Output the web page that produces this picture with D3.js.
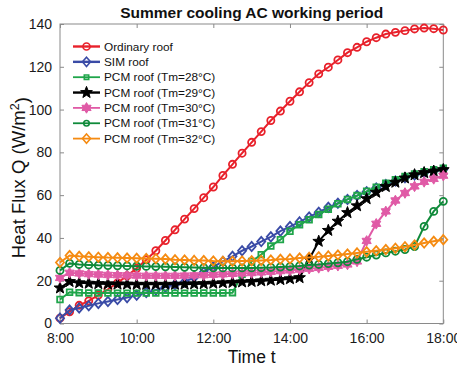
<!DOCTYPE html>
<html>
<head>
<meta charset="utf-8">
<script src="https://cdn.jsdelivr.net/npm/d3@7/dist/d3.min.js"></script>
<style>
  html, body { margin: 0; padding: 0; background: #fff; }
  svg { display: block; font-family: "Liberation Sans", Arial, Helvetica, sans-serif; }
</style>
</head>
<body>
<svg id="chart" width="457" height="367"></svg>
<script>
// Sample times (every 15 minutes, 8:00–18:00)
const times = ["8:00","8:15","8:30","8:45","9:00","9:15","9:30","9:45",
  "10:00","10:15","10:30","10:45","11:00","11:15","11:30","11:45",
  "12:00","12:15","12:30","12:45","13:00","13:15","13:30","13:45",
  "14:00","14:15","14:30","14:45","15:00","15:15","15:30","15:45",
  "16:00","16:15","16:30","16:45","17:00","17:15","17:30","17:45","18:00"];

// Heat flux Q (W/m²) for each roof type
const ordinaryRoof = [2.5, 5.5, 8.5, 10.6, 13.3, 16.0, 19.0, 22.3, 25.8, 29.8,
  34.0, 38.8, 43.8, 48.8, 53.7, 58.8, 63.8, 69.2, 74.4, 79.6,
  84.7, 89.7, 94.9, 99.3, 103.9, 108.3, 112.6, 116.7, 119.8, 123.2,
  126.6, 129.1, 131.7, 133.6, 135.3, 136.1, 136.9, 137.7, 138.1, 137.8, 137.2];
const simRoof = [2.5, 6.3, 7.3, 8.3, 9.4, 10.3, 11.2, 12.1, 13.2, 14.5,
  15.7, 17.0, 18.2, 19.4, 21.6, 24.0, 26.5, 29.0, 31.4, 34.0,
  36.0, 38.3, 40.5, 43.2, 45.3, 47.5, 49.8, 52.0, 54.3, 56.2,
  58.0, 59.8, 61.6, 63.3, 65.0, 66.6, 68.1, 69.4, 70.5, 71.3, 72.0];
const pcm28 = [11.2, 14.6, 14.4, 14.3, 14.3, 14.2, 14.2, 14.2, 14.2, 14.2,
  14.2, 14.2, 14.2, 14.2, 14.2, 14.3, 14.3, 14.3, 14.4, 23.0,
  29.0, 32.2, 36.2, 39.2, 43.1, 46.2, 48.5, 51.0, 53.4, 56.0,
  58.0, 59.8, 61.8, 63.7, 65.6, 67.2, 68.7, 69.9, 71.0, 71.9, 72.6];
const pcm29 = [16.6, 19.6, 19.0, 18.8, 18.6, 18.5, 18.4, 18.4, 18.3, 18.3,
  18.3, 18.3, 18.3, 18.4, 18.5, 18.6, 18.8, 19.0, 19.2, 19.4,
  19.6, 19.9, 20.2, 20.5, 20.9, 21.4, 30.0, 38.4, 43.5, 47.8,
  51.8, 55.0, 58.3, 61.3, 64.0, 66.0, 68.0, 69.5, 70.5, 71.2, 71.9];
const pcm30 = [21.3, 23.7, 23.4, 23.1, 22.9, 22.7, 22.6, 22.5, 22.4, 22.3,
  22.3, 22.3, 22.3, 22.4, 22.5, 22.6, 22.8, 23.0, 23.2, 23.4,
  23.6, 23.9, 24.2, 24.5, 24.8, 25.2, 25.6, 26.0, 26.5, 27.0,
  27.6, 29.0, 38.6, 46.6, 52.4, 57.5, 61.0, 64.1, 66.2, 67.6, 69.1];
const pcm31 = [24.8, 28.1, 27.6, 27.4, 27.2, 27.1, 27.0, 26.9, 26.8, 26.7,
  26.6, 26.5, 26.4, 26.3, 26.2, 26.1, 26.0, 26.0, 26.0, 26.0,
  26.0, 26.1, 26.2, 26.4, 26.6, 26.9, 27.3, 27.6, 28.0, 28.4,
  28.9, 30.0, 31.0, 32.0, 33.0, 33.8, 34.6, 36.0, 45.4, 52.4, 57.1];
const pcm32 = [28.5, 31.8, 31.4, 31.2, 31.0, 30.8, 30.7, 30.6, 30.5, 30.4,
  30.3, 30.1, 29.8, 29.7, 29.5, 29.4, 29.2, 29.1, 29.1, 29.2,
  29.3, 29.5, 29.7, 30.0, 30.2, 30.6, 30.9, 31.2, 31.6, 32.0,
  32.5, 33.0, 33.5, 34.0, 34.6, 35.2, 35.9, 36.7, 37.6, 38.4, 39.2];

// Axis ticks
const xTickLabels = ["8:00","10:00","12:00","14:00","16:00","18:00"];
const yTicks = [0, 20, 40, 60, 80, 100, 120, 140];

const seriesNames = ["Ordinary roof", "SIM roof", "PCM roof (Tm=28°C)", "PCM roof (Tm=29°C)",
  "PCM roof (Tm=30°C)", "PCM roof (Tm=31°C)", "PCM roof (Tm=32°C)"];
const seriesValues = [ordinaryRoof, simRoof, pcm28, pcm29, pcm30, pcm31, pcm32];
const seriesColors = ["#e8212b", "#3a4ba6", "#1fa54a", "#000000", "#e05aa6", "#0f8a3a", "#f58b12"];
const seriesMarkers = ["circle", "diamond", "square", "pentagram", "hexagram", "circle", "diamond"];

const toHours = s => { const [h, m] = s.split(":").map(Number); return h + m / 60; };

const svg = d3.select("#chart");
const plot = { left: 60, right: 443.3, top: 24, bottom: 323.5 };

const x = d3.scaleLinear().domain([8, 18]).range([plot.left, plot.right]);
const y = d3.scaleLinear().domain([0, 140]).range([plot.bottom, plot.top]);

// star-shaped symbol with n points
function starSymbol(n, innerRatio) {
  return {
    draw(ctx, size) {
      const r = Math.sqrt(size);
      const ri = r * innerRatio;
      for (let k = 0; k < 2 * n; k++) {
        const a = -Math.PI / 2 + k * Math.PI / n;
        const rr = k % 2 === 0 ? r : ri;
        const px = rr * Math.cos(a), py = rr * Math.sin(a);
        if (k === 0) ctx.moveTo(px, py); else ctx.lineTo(px, py);
      }
      ctx.closePath();
    }
  };
}
const squareDiamond = {
  draw(ctx, size) {
    const r = Math.sqrt(size);
    ctx.moveTo(0, -r * 1.1); ctx.lineTo(r * 0.95, 0); ctx.lineTo(0, r * 1.1); ctx.lineTo(-r * 0.95, 0);
    ctx.closePath();
  }
};
const markerDefs = {
  circle:    { type: d3.symbolCircle, size: 40, fill: false },
  diamond:   { type: squareDiamond, size: 18, fill: false },
  square:    { type: d3.symbolSquare, size: 32, fill: false },
  pentagram: { type: starSymbol(5, 0.42), size: 38, fill: true },
  hexagram:  { type: starSymbol(6, 0.58), size: 28, fill: true }
};

// axes box
const axisColor = "#8a8a8a";
svg.append("rect")
  .attr("x", plot.left).attr("y", plot.top)
  .attr("width", plot.right - plot.left).attr("height", plot.bottom - plot.top)
  .attr("fill", "none").attr("stroke", axisColor).attr("stroke-width", 1);

const tickLen = 4;
const xTickVals = xTickLabels.map(toHours);
const gx = svg.append("g").attr("transform", `translate(0,${plot.bottom})`)
  .call(d3.axisBottom(x).tickValues(xTickVals).tickSizeInner(-tickLen).tickSizeOuter(0)
    .tickPadding(10).tickFormat((d, i) => xTickLabels[i]));
const gxTop = svg.append("g").attr("transform", `translate(0,${plot.top})`)
  .call(d3.axisTop(x).tickValues(xTickVals).tickSizeInner(-tickLen).tickSizeOuter(0).tickFormat(""));
const gy = svg.append("g").attr("transform", `translate(${plot.left},0)`)
  .call(d3.axisLeft(y).tickValues(yTicks).tickSizeInner(-tickLen).tickSizeOuter(0).tickPadding(8));
const gyRight = svg.append("g").attr("transform", `translate(${plot.right},0)`)
  .call(d3.axisRight(y).tickValues(yTicks).tickSizeInner(-tickLen).tickSizeOuter(0).tickFormat(""));

[gx, gxTop, gy, gyRight].forEach(g => {
  g.select(".domain").remove();
  g.selectAll(".tick line").attr("stroke", axisColor);
  g.selectAll(".tick text").attr("fill", "#1a1a1a").style("font-size", "14px")
    .style("font-family", "'Liberation Sans', Arial, sans-serif");
});

// series lines and markers
const line = d3.line().x((d, i) => x(toHours(times[i]))).y(d => y(d));
seriesValues.forEach((vals, s) => {
  const color = seriesColors[s];
  const m = markerDefs[seriesMarkers[s]];
  const g = svg.append("g");
  g.append("path").datum(vals)
    .attr("d", line).attr("fill", "none").attr("stroke", color).attr("stroke-width", 2);
  g.selectAll("path.mk").data(vals).join("path")
    .attr("class", "mk")
    .attr("transform", (d, i) => `translate(${x(toHours(times[i]))},${y(d)})`)
    .attr("d", d3.symbol().type(m.type).size(m.size))
    .attr("fill", m.fill ? color : "none")
    .attr("stroke", color).attr("stroke-width", m.fill ? 1 : 1.8);
});

// legend
const legend = svg.append("g");
seriesNames.forEach((name, s) => {
  const ly = 46.5 + s * 15.35;
  const color = seriesColors[s];
  const m = markerDefs[seriesMarkers[s]];
  legend.append("line").attr("x1", 73).attr("x2", 100).attr("y1", ly).attr("y2", ly)
    .attr("stroke", color).attr("stroke-width", s === 0 || s === 1 || s === 3 ? 2.4 : 1.8);
  legend.append("path").attr("transform", `translate(86.5,${ly})`)
    .attr("d", d3.symbol().type(m.type).size(s === 2 || s === 5 ? m.size * 0.6 : m.size))
    .attr("fill", m.fill ? color : "none").attr("stroke", color).attr("stroke-width", m.fill ? 1 : 1.6);
  legend.append("text").attr("x", 104).attr("y", ly).attr("dy", "0.36em")
    .style("font-size", "11.8px").attr("fill", "#111").text(name);
});

// title and axis labels
svg.append("text").attr("x", (plot.left + plot.right) / 2).attr("y", 18)
  .attr("text-anchor", "middle").style("font-size", "15.5px").style("font-weight", "bold")
  .attr("fill", "#111").text("Summer cooling AC working period");
svg.append("text").attr("x", (plot.left + plot.right) / 2).attr("y", 363)
  .attr("text-anchor", "middle").style("font-size", "17.5px").attr("fill", "#111").text("Time t");
const yl = svg.append("text")
  .attr("transform", `translate(25,${(plot.top + plot.bottom) / 2 + 4}) rotate(-90)`)
  .attr("text-anchor", "middle").style("font-size", "18.5px").attr("fill", "#111");
yl.append("tspan").text("Heat Flux Q (W/m");
yl.append("tspan").attr("dy", "-0.45em").style("font-size", "12.5px").text("2");
yl.append("tspan").attr("dy", "0.45em").text(")");
</script>
</body>
</html>
